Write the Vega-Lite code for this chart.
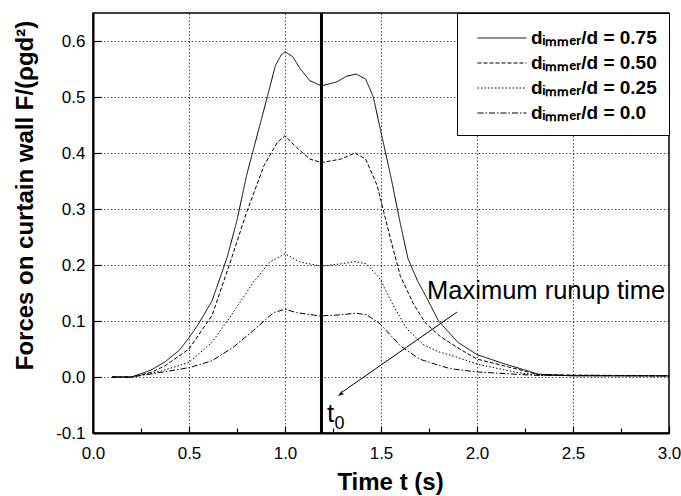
{
  "$schema": "https://vega.github.io/schema/vega-lite/v6.json",
  "width": 576,
  "height": 420,
  "autosize": "none",
  "padding": {"left": 93, "top": 13, "right": 12, "bottom": 63},
  "background": "white",
  "config": {
    "font": "Liberation Sans",
    "view": {"stroke": "black", "strokeWidth": 1.5},
    "axis": {
      "domainColor": "black",
      "domainWidth": 2,
      "tickColor": "black",
      "tickWidth": 1.2,
      "labelFont": "Liberation Sans",
      "labelFontSize": 17,
      "labelColor": "black",
      "titleFont": "Liberation Sans",
      "titleFontSize": 24,
      "titleFontWeight": "bold",
      "titleColor": "black",
      "gridColor": "#222222",
      "gridDash": [1.5, 2],
      "gridWidth": 0.8,
      "gridOpacity": 1
    },
    "legend": {
      "orient": "top-right",
      "offset": 0,
      "strokeColor": "black",
      "fillColor": "white",
      "padding": 12,
      "symbolType": "M-2,0H2",
      "symbolSize": 600,
      "symbolOffset": 20,
      "symbolStrokeWidth": 1,
      "symbolStrokeColor": "black",
      "labelFont": "Liberation Sans",
      "labelFontSize": 19,
      "labelFontWeight": "bold",
      "labelColor": "black",
      "labelOffset": 16,
      "rowPadding": 2,
      "labelLimit": 300
    }
  },
  "layer": [
    {
      "data": {
        "values": [
          {"t": 0.1, "f": 0.0, "series": "dᵢₘₘₑᵣ/d = 0.75"},
          {"t": 0.2, "f": 0.0, "series": "dᵢₘₘₑᵣ/d = 0.75"},
          {"t": 0.3, "f": 0.012, "series": "dᵢₘₘₑᵣ/d = 0.75"},
          {"t": 0.375, "f": 0.027, "series": "dᵢₘₘₑᵣ/d = 0.75"},
          {"t": 0.45, "f": 0.048, "series": "dᵢₘₘₑᵣ/d = 0.75"},
          {"t": 0.5, "f": 0.07, "series": "dᵢₘₘₑᵣ/d = 0.75"},
          {"t": 0.55, "f": 0.095, "series": "dᵢₘₘₑᵣ/d = 0.75"},
          {"t": 0.62, "f": 0.136, "series": "dᵢₘₘₑᵣ/d = 0.75"},
          {"t": 0.7, "f": 0.215, "series": "dᵢₘₘₑᵣ/d = 0.75"},
          {"t": 0.75, "f": 0.28, "series": "dᵢₘₘₑᵣ/d = 0.75"},
          {"t": 0.8, "f": 0.36, "series": "dᵢₘₘₑᵣ/d = 0.75"},
          {"t": 0.85, "f": 0.425, "series": "dᵢₘₘₑᵣ/d = 0.75"},
          {"t": 0.9, "f": 0.49, "series": "dᵢₘₘₑᵣ/d = 0.75"},
          {"t": 0.95, "f": 0.556, "series": "dᵢₘₘₑᵣ/d = 0.75"},
          {"t": 0.98, "f": 0.575, "series": "dᵢₘₘₑᵣ/d = 0.75"},
          {"t": 1.0, "f": 0.581, "series": "dᵢₘₘₑᵣ/d = 0.75"},
          {"t": 1.04, "f": 0.572, "series": "dᵢₘₘₑᵣ/d = 0.75"},
          {"t": 1.08, "f": 0.55, "series": "dᵢₘₘₑᵣ/d = 0.75"},
          {"t": 1.13, "f": 0.529, "series": "dᵢₘₘₑᵣ/d = 0.75"},
          {"t": 1.19, "f": 0.52, "series": "dᵢₘₘₑᵣ/d = 0.75"},
          {"t": 1.27, "f": 0.527, "series": "dᵢₘₘₑᵣ/d = 0.75"},
          {"t": 1.32, "f": 0.537, "series": "dᵢₘₘₑᵣ/d = 0.75"},
          {"t": 1.37, "f": 0.541, "series": "dᵢₘₘₑᵣ/d = 0.75"},
          {"t": 1.42, "f": 0.532, "series": "dᵢₘₘₑᵣ/d = 0.75"},
          {"t": 1.46, "f": 0.5, "series": "dᵢₘₘₑᵣ/d = 0.75"},
          {"t": 1.5, "f": 0.437, "series": "dᵢₘₘₑᵣ/d = 0.75"},
          {"t": 1.55, "f": 0.36, "series": "dᵢₘₘₑᵣ/d = 0.75"},
          {"t": 1.6, "f": 0.275, "series": "dᵢₘₘₑᵣ/d = 0.75"},
          {"t": 1.64, "f": 0.212, "series": "dᵢₘₘₑᵣ/d = 0.75"},
          {"t": 1.69, "f": 0.172, "series": "dᵢₘₘₑᵣ/d = 0.75"},
          {"t": 1.74, "f": 0.14, "series": "dᵢₘₘₑᵣ/d = 0.75"},
          {"t": 1.8, "f": 0.1, "series": "dᵢₘₘₑᵣ/d = 0.75"},
          {"t": 1.9, "f": 0.062, "series": "dᵢₘₘₑᵣ/d = 0.75"},
          {"t": 2.0, "f": 0.04, "series": "dᵢₘₘₑᵣ/d = 0.75"},
          {"t": 2.12, "f": 0.026, "series": "dᵢₘₘₑᵣ/d = 0.75"},
          {"t": 2.32, "f": 0.005, "series": "dᵢₘₘₑᵣ/d = 0.75"},
          {"t": 2.5, "f": 0.002, "series": "dᵢₘₘₑᵣ/d = 0.75"},
          {"t": 3.0, "f": 0.002, "series": "dᵢₘₘₑᵣ/d = 0.75"},

          {"t": 0.1, "f": 0.0, "series": "dᵢₘₘₑᵣ/d = 0.50"},
          {"t": 0.2, "f": 0.0, "series": "dᵢₘₘₑᵣ/d = 0.50"},
          {"t": 0.3, "f": 0.008, "series": "dᵢₘₘₑᵣ/d = 0.50"},
          {"t": 0.375, "f": 0.02, "series": "dᵢₘₘₑᵣ/d = 0.50"},
          {"t": 0.5, "f": 0.05, "series": "dᵢₘₘₑᵣ/d = 0.50"},
          {"t": 0.62, "f": 0.11, "series": "dᵢₘₘₑᵣ/d = 0.50"},
          {"t": 0.71, "f": 0.2, "series": "dᵢₘₘₑᵣ/d = 0.50"},
          {"t": 0.8, "f": 0.294, "series": "dᵢₘₘₑᵣ/d = 0.50"},
          {"t": 0.89, "f": 0.377, "series": "dᵢₘₘₑᵣ/d = 0.50"},
          {"t": 0.96, "f": 0.419, "series": "dᵢₘₘₑᵣ/d = 0.50"},
          {"t": 1.0, "f": 0.431, "series": "dᵢₘₘₑᵣ/d = 0.50"},
          {"t": 1.06, "f": 0.41, "series": "dᵢₘₘₑᵣ/d = 0.50"},
          {"t": 1.13, "f": 0.389, "series": "dᵢₘₘₑᵣ/d = 0.50"},
          {"t": 1.19, "f": 0.383, "series": "dᵢₘₘₑᵣ/d = 0.50"},
          {"t": 1.29, "f": 0.389, "series": "dᵢₘₘₑᵣ/d = 0.50"},
          {"t": 1.365, "f": 0.4, "series": "dᵢₘₘₑᵣ/d = 0.50"},
          {"t": 1.42, "f": 0.389, "series": "dᵢₘₘₑᵣ/d = 0.50"},
          {"t": 1.48, "f": 0.342, "series": "dᵢₘₘₑᵣ/d = 0.50"},
          {"t": 1.55, "f": 0.246, "series": "dᵢₘₘₑᵣ/d = 0.50"},
          {"t": 1.6, "f": 0.181, "series": "dᵢₘₘₑᵣ/d = 0.50"},
          {"t": 1.67, "f": 0.13, "series": "dᵢₘₘₑᵣ/d = 0.50"},
          {"t": 1.73, "f": 0.097, "series": "dᵢₘₘₑᵣ/d = 0.50"},
          {"t": 1.81, "f": 0.072, "series": "dᵢₘₘₑᵣ/d = 0.50"},
          {"t": 1.91, "f": 0.05, "series": "dᵢₘₘₑᵣ/d = 0.50"},
          {"t": 2.0, "f": 0.032, "series": "dᵢₘₘₑᵣ/d = 0.50"},
          {"t": 2.21, "f": 0.014, "series": "dᵢₘₘₑᵣ/d = 0.50"},
          {"t": 2.32, "f": 0.004, "series": "dᵢₘₘₑᵣ/d = 0.50"},
          {"t": 3.0, "f": 0.002, "series": "dᵢₘₘₑᵣ/d = 0.50"},

          {"t": 0.1, "f": 0.0, "series": "dᵢₘₘₑᵣ/d = 0.25"},
          {"t": 0.2, "f": 0.0, "series": "dᵢₘₘₑᵣ/d = 0.25"},
          {"t": 0.35, "f": 0.01, "series": "dᵢₘₘₑᵣ/d = 0.25"},
          {"t": 0.5, "f": 0.026, "series": "dᵢₘₘₑᵣ/d = 0.25"},
          {"t": 0.62, "f": 0.062, "series": "dᵢₘₘₑᵣ/d = 0.25"},
          {"t": 0.73, "f": 0.115, "series": "dᵢₘₘₑᵣ/d = 0.25"},
          {"t": 0.835, "f": 0.169, "series": "dᵢₘₘₑᵣ/d = 0.25"},
          {"t": 0.92, "f": 0.205, "series": "dᵢₘₘₑᵣ/d = 0.25"},
          {"t": 1.0, "f": 0.22, "series": "dᵢₘₘₑᵣ/d = 0.25"},
          {"t": 1.08, "f": 0.205, "series": "dᵢₘₘₑᵣ/d = 0.25"},
          {"t": 1.19, "f": 0.198, "series": "dᵢₘₘₑᵣ/d = 0.25"},
          {"t": 1.29, "f": 0.202, "series": "dᵢₘₘₑᵣ/d = 0.25"},
          {"t": 1.365, "f": 0.206, "series": "dᵢₘₘₑᵣ/d = 0.25"},
          {"t": 1.425, "f": 0.202, "series": "dᵢₘₘₑᵣ/d = 0.25"},
          {"t": 1.495, "f": 0.175, "series": "dᵢₘₘₑᵣ/d = 0.25"},
          {"t": 1.565, "f": 0.127, "series": "dᵢₘₘₑᵣ/d = 0.25"},
          {"t": 1.635, "f": 0.086, "series": "dᵢₘₘₑᵣ/d = 0.25"},
          {"t": 1.72, "f": 0.058, "series": "dᵢₘₘₑᵣ/d = 0.25"},
          {"t": 1.8, "f": 0.045, "series": "dᵢₘₘₑᵣ/d = 0.25"},
          {"t": 1.9, "f": 0.035, "series": "dᵢₘₘₑᵣ/d = 0.25"},
          {"t": 2.0, "f": 0.023, "series": "dᵢₘₘₑᵣ/d = 0.25"},
          {"t": 2.21, "f": 0.008, "series": "dᵢₘₘₑᵣ/d = 0.25"},
          {"t": 2.32, "f": 0.003, "series": "dᵢₘₘₑᵣ/d = 0.25"},
          {"t": 3.0, "f": 0.002, "series": "dᵢₘₘₑᵣ/d = 0.25"},

          {"t": 0.1, "f": 0.0, "series": "dᵢₘₘₑᵣ/d = 0.0"},
          {"t": 0.2, "f": 0.0, "series": "dᵢₘₘₑᵣ/d = 0.0"},
          {"t": 0.35, "f": 0.008, "series": "dᵢₘₘₑᵣ/d = 0.0"},
          {"t": 0.505, "f": 0.017, "series": "dᵢₘₘₑᵣ/d = 0.0"},
          {"t": 0.62, "f": 0.029, "series": "dᵢₘₘₑᵣ/d = 0.0"},
          {"t": 0.73, "f": 0.053, "series": "dᵢₘₘₑᵣ/d = 0.0"},
          {"t": 0.835, "f": 0.083, "series": "dᵢₘₘₑᵣ/d = 0.0"},
          {"t": 0.94, "f": 0.115, "series": "dᵢₘₘₑᵣ/d = 0.0"},
          {"t": 1.0, "f": 0.121, "series": "dᵢₘₘₑᵣ/d = 0.0"},
          {"t": 1.06, "f": 0.115, "series": "dᵢₘₘₑᵣ/d = 0.0"},
          {"t": 1.18, "f": 0.109, "series": "dᵢₘₘₑᵣ/d = 0.0"},
          {"t": 1.29, "f": 0.111, "series": "dᵢₘₘₑᵣ/d = 0.0"},
          {"t": 1.37, "f": 0.114, "series": "dᵢₘₘₑᵣ/d = 0.0"},
          {"t": 1.425, "f": 0.111, "series": "dᵢₘₘₑᵣ/d = 0.0"},
          {"t": 1.495, "f": 0.095, "series": "dᵢₘₘₑᵣ/d = 0.0"},
          {"t": 1.6, "f": 0.056, "series": "dᵢₘₘₑᵣ/d = 0.0"},
          {"t": 1.7, "f": 0.032, "series": "dᵢₘₘₑᵣ/d = 0.0"},
          {"t": 1.81, "f": 0.02, "series": "dᵢₘₘₑᵣ/d = 0.0"},
          {"t": 1.86, "f": 0.015, "series": "dᵢₘₘₑᵣ/d = 0.0"},
          {"t": 2.0, "f": 0.009, "series": "dᵢₘₘₑᵣ/d = 0.0"},
          {"t": 2.3, "f": 0.003, "series": "dᵢₘₘₑᵣ/d = 0.0"},
          {"t": 3.0, "f": 0.002, "series": "dᵢₘₘₑᵣ/d = 0.0"}
        ]
      },
      "mark": {"type": "line", "color": "black", "strokeWidth": 1, "clip": true},
      "encoding": {
        "x": {
          "field": "t",
          "type": "quantitative",
          "scale": {"domain": [0, 3], "nice": false, "zero": false},
          "axis": {
            "title": "Time t (s)",
            "titleX": 297,
            "values": [0, 0.25, 0.5, 0.75, 1, 1.25, 1.5, 1.75, 2, 2.25, 2.5, 2.75, 3],
            "labelExpr": "datum.value % 0.5 === 0 ? format(datum.value, '.1f') : ''",
            "tickSize": {"condition": {"test": "datum.value % 0.5 !== 0", "value": -5}, "value": -7},
            "gridOpacity": {"condition": {"test": "datum.value % 0.5 !== 0 || datum.value === 0 || datum.value === 3", "value": 0}, "value": 1},
            "labelPadding": 19,
            "titlePadding": 9,
            "labelFlush": false
          }
        },
        "y": {
          "field": "f",
          "type": "quantitative",
          "scale": {"domain": [-0.1, 0.65], "nice": false, "zero": false},
          "axis": {
            "title": "Forces on curtain wall F/(ρgd²)",
            "titleY": 182,
            "values": [-0.1, -0.05, 0, 0.05, 0.1, 0.15, 0.2, 0.25, 0.3, 0.35, 0.4, 0.45, 0.5, 0.55, 0.6],
            "labelExpr": "round(datum.value*100) % 10 === 0 ? replace(format(datum.value, '.1f'), '−', '-') : ''",
            "tickSize": {"condition": {"test": "round(datum.value*100) % 10 !== 0", "value": -5}, "value": -8},
            "gridOpacity": {"condition": {"test": "round(datum.value*100) % 10 !== 0 || datum.value < -0.09", "value": 0}, "value": 1},
            "labelPadding": 16,
            "titlePadding": 18,
            "labelFlush": false
          }
        },
        "strokeDash": {
          "field": "series",
          "type": "nominal",
          "scale": {
            "domain": ["dᵢₘₘₑᵣ/d = 0.75", "dᵢₘₘₑᵣ/d = 0.50", "dᵢₘₘₑᵣ/d = 0.25", "dᵢₘₘₑᵣ/d = 0.0"],
            "range": [[1, 0], [4, 2], [1.5, 2], [6, 2, 1.5, 2]]
          },
          "legend": {"title": null}
        }
      }
    },
    {
      "data": {"values": [{"t": 1.19}]},
      "mark": {"type": "rule", "color": "black", "strokeWidth": 3},
      "encoding": {
        "x": {"field": "t", "type": "quantitative"}
      }
    },
    {
      "data": {"values": [{"t": 1.896, "f": 0.116, "t2": 1.285, "f2": -0.03}]},
      "mark": {"type": "rule", "color": "black", "strokeWidth": 1},
      "encoding": {
        "x": {"field": "t", "type": "quantitative"},
        "y": {"field": "f", "type": "quantitative"},
        "x2": {"field": "t2"},
        "y2": {"field": "f2"}
      }
    },
    {
      "data": {"values": [{"t": 1.276, "f": -0.034}]},
      "mark": {"type": "point", "shape": "M0,0L-0.4,1.2L0,0.9L0.4,1.2Z", "filled": true, "color": "black", "size": 120, "opacity": 1, "angle": 235},
      "encoding": {
        "x": {"field": "t", "type": "quantitative"},
        "y": {"field": "f", "type": "quantitative"}
      }
    },
    {
      "data": {"values": [{"t": 1.74, "f": 0.139, "label": "Maximum runup time"}]},
      "mark": {"type": "text", "align": "left", "baseline": "alphabetic", "font": "Liberation Sans", "fontSize": 25.5, "color": "black"},
      "encoding": {
        "x": {"field": "t", "type": "quantitative"},
        "y": {"field": "f", "type": "quantitative"},
        "text": {"field": "label"}
      }
    },
    {
      "data": {"values": [{"t": 1.219, "f": -0.08, "label": "t"}]},
      "mark": {"type": "text", "align": "left", "baseline": "alphabetic", "font": "Liberation Sans", "fontSize": 26, "color": "black"},
      "encoding": {
        "x": {"field": "t", "type": "quantitative"},
        "y": {"field": "f", "type": "quantitative"},
        "text": {"field": "label"}
      }
    },
    {
      "data": {"values": [{"t": 1.258, "f": -0.093, "label": "0"}]},
      "mark": {"type": "text", "align": "left", "baseline": "alphabetic", "font": "Liberation Sans", "fontSize": 18, "color": "black"},
      "encoding": {
        "x": {"field": "t", "type": "quantitative"},
        "y": {"field": "f", "type": "quantitative"},
        "text": {"field": "label"}
      }
    }
  ]
}
